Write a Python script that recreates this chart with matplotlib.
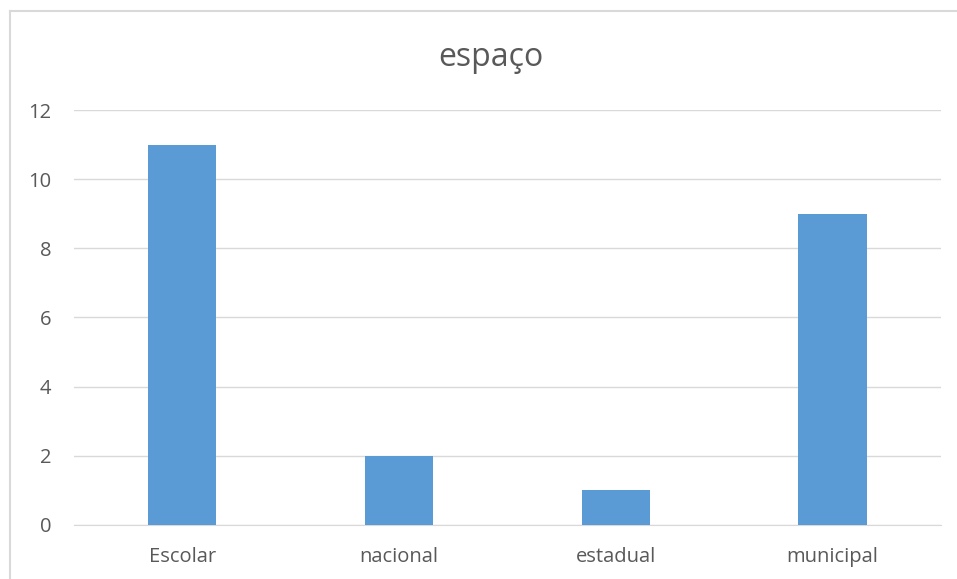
import matplotlib
matplotlib.use("Agg")
import matplotlib.pyplot as plt
from matplotlib.lines import Line2D

categories = ["Escolar", "nacional", "estadual", "municipal"]
values = [11, 2, 1, 9]
yticks = [0, 2, 4, 6, 8, 10, 12]

plt.rcParams['font.family'] = ['Open Sans', 'DejaVu Sans']
text_color = '#595959'

W, H = 957, 579
fig = plt.figure(figsize=(W / 100, H / 100), dpi=100)
ax = fig.add_axes([0.0773, 0.0933, 0.906, 0.7167])

x = range(len(categories))
ax.bar(x, values, width=0.315, color='#5B9BD5', zorder=3)

ax.set_xlim(-0.5, len(categories) - 0.5)
ax.set_ylim(0, 12)
ax.set_yticks(yticks)
ax.set_xticks(list(x))
ax.set_xticklabels(categories)
ax.grid(axis='y', color='#D9D9D9', linewidth=1, zorder=0)
for side in ['top', 'right', 'left']:
    ax.spines[side].set_visible(False)
ax.spines['bottom'].set_color('#D9D9D9')
ax.tick_params(axis='both', length=0, labelsize=14.5, colors=text_color)
ax.tick_params(axis='y', pad=16.5)
ax.tick_params(axis='x', pad=16)

fig.text(0.513, 0.9, "espaço", ha='center', va='center', fontsize=23, color=text_color)

# chart border (cropped on right and bottom)
bx, by = 9.5 / W, 1 - 10.5 / H
fig.lines.append(Line2D([bx, bx], [0, by], transform=fig.transFigure, color='#D9D9D9', linewidth=1.5))
fig.lines.append(Line2D([bx, 1], [by, by], transform=fig.transFigure, color='#D9D9D9', linewidth=1.5))

fig.savefig("out.png", dpi=100)
